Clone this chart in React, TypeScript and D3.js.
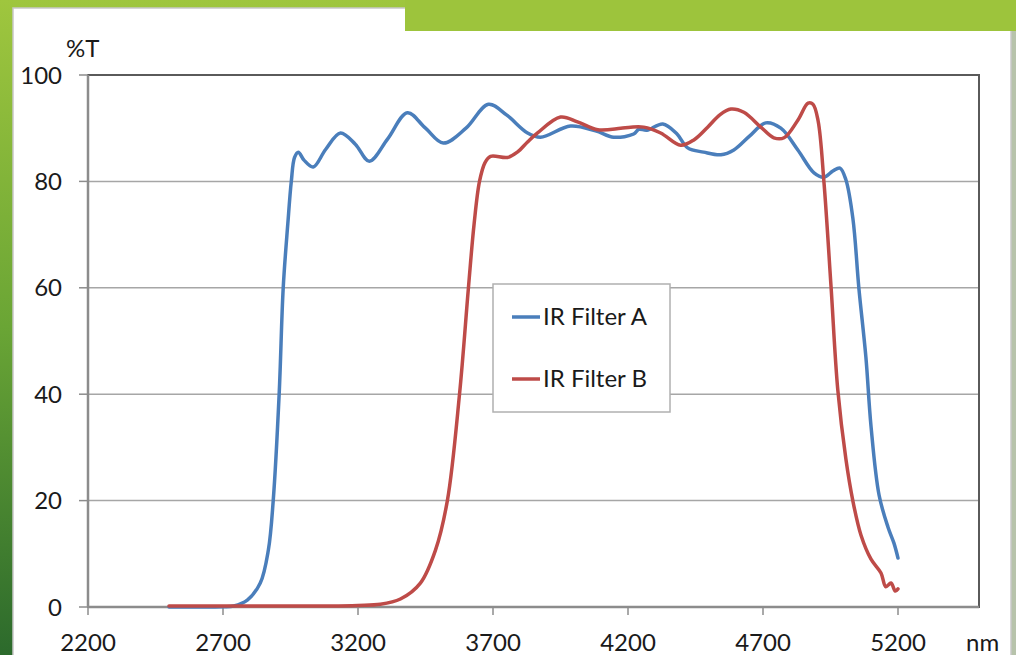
import * as d3 from "d3";
import * as React from "react";

// wavelength (nm) / transmission (%T)
const filterA_nm = [2500, 2600, 2700, 2740, 2790, 2838, 2868, 2886, 2908, 2923, 2940, 2953, 2965, 2979, 3000, 3034, 3080, 3135, 3190, 3242, 3310, 3383, 3450, 3516, 3600, 3683, 3750, 3828, 3876, 3987, 4080, 4147, 4221, 4240, 4270, 4329, 4380, 4421, 4480, 4544, 4592, 4650, 4710, 4766, 4829, 4889, 4926, 4960, 4985, 5007, 5033, 5055, 5081, 5100, 5130, 5163, 5185, 5200];
const filterA_T = [0, 0, 0.05, 0.2, 1.3, 4.5, 10.7, 20, 40, 60, 72, 80, 84.5, 85.5, 84, 82.7, 86, 89.1, 87, 83.8, 88, 92.9, 90, 87.2, 90, 94.5, 92.5, 89.1, 88.3, 90.4, 89.5, 88.3, 88.9, 89.8, 89.6, 90.8, 89, 86.3, 85.5, 85, 85.9, 88.5, 91, 90, 85.9, 81.6, 80.8, 82, 82.5, 80.3, 73, 60, 47, 34, 21, 15, 12, 9.2];

const filterB_nm = [2500, 2800, 3100, 3200, 3283, 3357, 3431, 3487, 3531, 3576, 3609, 3630, 3650, 3670, 3691, 3754, 3790, 3828, 3865, 3950, 4013, 4088, 4173, 4210, 4258, 4321, 4395, 4444, 4495, 4540, 4581, 4629, 4692, 4740, 4778, 4829, 4867, 4885, 4904, 4926, 4952, 4977, 5007, 5033, 5063, 5100, 5137, 5155, 5174, 5190, 5200];
const filterB_T = [0.2, 0.2, 0.2, 0.3, 0.5, 1.5, 4.5, 10.7, 20, 40, 60, 72, 80, 83.5, 84.7, 84.5, 85.5, 87.4, 89.1, 92.1, 91.2, 89.7, 90, 90.2, 90.2, 89.1, 86.8, 87.8, 90.2, 92.5, 93.6, 93, 90.2, 88.2, 88.2, 91.5, 94.7, 94.5, 91.4, 79.7, 60.2, 40.8, 27.8, 19.9, 13.5, 9, 6.4, 3.8, 4.5, 3, 3.4];

const xTicks = [2200, 2700, 3200, 3700, 4200, 4700, 5200];
const yTicks = [0, 20, 40, 60, 80, 100];
const seriesNames = ["IR Filter A", "IR Filter B"];
const seriesColors = ["#4a7ebb", "#be4b48"];

const W = 1016;
const H = 655;
const FONT = "Lato, 'Open Sans', sans-serif";

export default function App() {
  const x = d3.scaleLinear().domain([2200, 5500]).range([88, 979]);
  const y = d3.scaleLinear().domain([0, 100]).range([607, 75]);

  const line = d3.line<[number, number]>()
    .x(d => x(d[0]))
    .y(d => y(d[1]))
    .curve(d3.curveCatmullRom.alpha(0.5));

  const series = [
    filterA_nm.map((v, i) => [v, filterA_T[i]] as [number, number]),
    filterB_nm.map((v, i) => [v, filterB_T[i]] as [number, number]),
  ];

  return (
    <div style={{ position: "fixed", left: 0, top: 0 }}>
      <svg width={W} height={H} style={{ display: "block" }}>
        <defs>
          <linearGradient id="side" x1="0" y1="0" x2="0" y2="1">
            <stop offset="0" stopColor="#9fc63e" />
            <stop offset="0.5" stopColor="#6aa535" />
            <stop offset="1" stopColor="#2c6a2c" />
          </linearGradient>
        </defs>
        {/* slide background */}
        <rect x={0} y={0} width={W} height={H} fill="url(#side)" />
        <rect x={1011} y={0} width={5} height={H} fill="#b7c3ab" />
        <rect x={13} y={8} width={998} height={H} fill="#ffffff" stroke="#c8c8c8" strokeWidth={1.5} />
        <rect x={405} y={0} width={W - 405} height={31} fill="#9dc43c" />

        {/* gridlines */}
        {yTicks.filter(t => t > 0 && t < 100).map(t => (
          <line key={t} x1={x(2200)} x2={x(5500)} y1={y(t)} y2={y(t)} stroke="#a6a6a6" strokeWidth={1.5} />
        ))}

        {/* plot border */}
        <rect x={x(2200)} y={y(100)} width={x(5500) - x(2200)} height={y(0) - y(100)} fill="none" stroke="#5a5a5a" strokeWidth={2} />

        {/* axes */}
        <line x1={x(2200)} x2={x(2200)} y1={y(100)} y2={y(0)} stroke="#8c8c8c" strokeWidth={2.5} />
        <line x1={x(2200)} x2={x(5500)} y1={y(0)} y2={y(0)} stroke="#8c8c8c" strokeWidth={2.5} />
        {yTicks.map(t => (
          <g key={t}>
            <line x1={x(2200) - 9} x2={x(2200)} y1={y(t)} y2={y(t)} stroke="#8c8c8c" strokeWidth={1.5} />
            <text x={62} y={y(t)} dy="0.36em" textAnchor="end" fontFamily={FONT} fontSize={24} fill="#1a1a1a">{t}</text>
          </g>
        ))}
        {xTicks.map(t => (
          <g key={t}>
            <line x1={x(t)} x2={x(t)} y1={y(0)} y2={y(0) + 8} stroke="#8c8c8c" strokeWidth={1.5} />
            <text x={x(t)} y={651} textAnchor="middle" fontFamily={FONT} fontSize={24} fill="#1a1a1a">{t}</text>
          </g>
        ))}
        <text x={66} y={57} fontFamily={FONT} fontSize={24} fill="#1a1a1a">%T</text>
        <text x={966} y={651} fontFamily={FONT} fontSize={24} fill="#1a1a1a">nm</text>

        {/* curves */}
        {series.map((s, i) => (
          <path key={i} d={line(s) ?? ""} fill="none" stroke={seriesColors[i]} strokeWidth={3.5} strokeLinejoin="round" strokeLinecap="round" />
        ))}

        {/* legend */}
        <rect x={493} y={284} width={177} height={128} fill="#ffffff" stroke="#b0b0b0" strokeWidth={1.5} />
        {seriesNames.map((n, i) => (
          <g key={n} transform={`translate(0,${317 + i * 62})`}>
            <line x1={512} x2={540} y1={0} y2={0} stroke={seriesColors[i]} strokeWidth={3.5} />
            <text x={543} y={0} dy="0.35em" fontFamily={FONT} fontSize={24} fill="#1a1a1a">{n}</text>
          </g>
        ))}
      </svg>
    </div>
  );
}
